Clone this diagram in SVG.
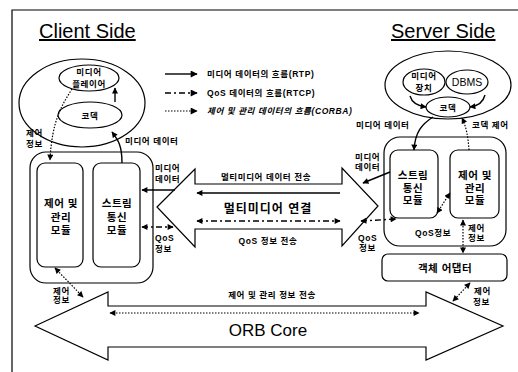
<svg xmlns="http://www.w3.org/2000/svg" width="518" height="372" viewBox="0 0 518 372">
<defs>
<marker id="ah" viewBox="0 0 10 10" refX="9" refY="5" markerWidth="7" markerHeight="6" markerUnits="userSpaceOnUse" orient="auto-start-reverse"><path d="M0,0 L10,5 L0,10 z" fill="#000"/></marker>
<marker id="ahl" viewBox="0 0 10 10" refX="9" refY="5" markerWidth="9" markerHeight="7" markerUnits="userSpaceOnUse" orient="auto-start-reverse"><path d="M0,0 L10,5 L0,10 z" fill="#000"/></marker>
<style>
.ln{fill:none;stroke:#000;stroke-width:1.2}
.sh{fill:#fff;stroke:#000;stroke-width:1.2}
.dot{fill:none;stroke:#000;stroke-width:1.2;stroke-dasharray:1.5 1.5}
.dd{fill:none;stroke:#000;stroke-width:1.4;stroke-dasharray:6 3 2 3}
.sol{fill:none;stroke:#000;stroke-width:1.4}
.t{font-family:"Liberation Sans","Noto Sans CJK KR",sans-serif;fill:#000}
.k{font-family:"Liberation Sans","Noto Sans CJK KR",sans-serif;fill:#000;font-size:8.5px;font-weight:bold;letter-spacing:0.6px}
.m{font-family:"Liberation Sans","Noto Sans CJK KR",sans-serif;fill:#000;font-size:10.5px;font-weight:bold;letter-spacing:0.5px;text-anchor:middle}
.c{text-anchor:middle}
.h{font-size:20px;text-decoration:underline}
</style>
</defs>
<rect width="518" height="372" fill="#fff"/>
<g id="frame"><path class="ln" d="M12,372 L12,10 L518,10"/></g>
<g id="titles">
<text class="t h" x="39" y="38">Client Side</text>
<text class="t h" x="391" y="38">Server Side</text>
</g>
<g id="legend">
<line class="sol" x1="165" y1="74" x2="197" y2="74" marker-end="url(#ahl)"/>
<text class="k" x="207" y="77">미디어 데이터의 흐름(RTP)</text>
<line class="dd" x1="165" y1="93" x2="197" y2="93" marker-end="url(#ahl)"/>
<text class="k" x="207" y="96">QoS 데이터의 흐름(RTCP)</text>
<line class="dot" x1="165" y1="111" x2="197" y2="111" marker-end="url(#ahl)"/>
<text class="k" x="207" y="114" font-style="italic">제어 및 관리 데이터의 흐름(CORBA)</text>
</g>
<g id="client-ellipse"><ellipse class="sh" cx="82" cy="103" rx="63" ry="44"/></g>
<g id="client-player"><ellipse class="sh" cx="89" cy="78" rx="30" ry="13"/>
<text class="k c" x="89" y="75">미디어</text><text class="k c" x="89" y="87">플레이어</text></g>
<g id="client-codec"><ellipse class="sh" cx="90" cy="115" rx="32" ry="13"/>
<text class="k c" x="90" y="119">코덱</text></g>
<g id="client-box"><rect class="sh" x="30" y="152" width="123" height="131" rx="16"/></g>
<g id="client-control"><rect class="sh" x="37" y="163" width="46" height="104" rx="8"/>
<text class="m" x="61" y="207">제어 및</text><text class="m" x="61" y="221">관리</text><text class="m" x="61" y="234">모듈</text></g>
<g id="client-stream"><rect class="sh" x="93" y="163" width="47" height="104" rx="8"/>
<text class="m" x="117" y="207">스트림</text><text class="m" x="117" y="221">통신</text><text class="m" x="117" y="234">모듈</text></g>
<g id="server-ellipse"><ellipse class="sh" cx="448" cy="85" rx="63" ry="34"/></g>
<g id="server-device"><ellipse class="sh" cx="424" cy="82" rx="21" ry="13"/>
<text class="k c" x="424" y="79">미디어</text><text class="k c" x="424" y="91">장치</text></g>
<g id="server-dbms"><ellipse class="sh" cx="467" cy="82" rx="21" ry="12"/>
<text class="t c" x="467" y="86" font-size="10.5">DBMS</text></g>
<g id="server-codec"><ellipse class="sh" cx="448" cy="107" rx="22" ry="10"/>
<text class="k c" x="448" y="111">코덱</text></g>
<g id="server-box"><rect class="sh" x="384" y="137" width="122" height="109" rx="16"/></g>
<g id="server-stream"><rect class="sh" x="390" y="150" width="48" height="68" rx="8"/>
<text class="m" x="413" y="179">스트림</text><text class="m" x="413" y="192">통신</text><text class="m" x="413" y="204">모듈</text></g>
<g id="server-control"><rect class="sh" x="450" y="150" width="49" height="68" rx="8"/>
<text class="m" x="475" y="179">제어 및</text><text class="m" x="475" y="192">관리</text><text class="m" x="475" y="204">모듈</text></g>
<g id="object-adapter"><rect class="sh" x="382" y="254" width="125" height="27" rx="6"/>
<text class="m" x="445" y="272">객체 어댑터</text></g>
<g id="multimedia-link"><polygon class="sh" points="157,207 195,169 195,184 342,184 342,168 378,206 342,246 342,229 195,229 195,247"/>
<text class="t c" x="268" y="213" font-size="12" font-weight="bold" letter-spacing="1">멀티미디어 연결</text></g>
<g id="orb-core"><polygon class="sh" points="35,326 108,292 108,306 426,306 426,292 503,326 426,360 426,347 108,347 108,360"/>
<text class="t c" x="268" y="336" font-size="17">ORB Core</text></g>
<g id="connectors">
<line class="sol" x1="115" y1="102" x2="115" y2="88" marker-end="url(#ah)"/>
<path class="dot" d="M72,89 C62,105 52,120 50,160" marker-end="url(#ah)"/>
<path class="sol" d="M122,163 C122,145 118,140 112,132" marker-end="url(#ah)"/>
<path class="sol" d="M410,96 C412,103 418,106 426,107" marker-end="url(#ah)"/>
<path class="sol" d="M485,95 C483,103 478,106 470,107" marker-end="url(#ah)"/>
<path class="sol" d="M433,117 C422,124 415,132 414,150" marker-end="url(#ah)"/>
<path class="dot" d="M469,150 C468,136 466,126 462,118" marker-end="url(#ah)"/>
<line class="sol" x1="175" y1="190" x2="142" y2="190" marker-end="url(#ah)"/>
<line class="sol" x1="340" y1="193" x2="197" y2="193" marker-end="url(#ah)"/>
<line class="dd" x1="197" y1="221" x2="340" y2="221" marker-start="url(#ah)" marker-end="url(#ah)"/>
<line class="dd" x1="142" y1="227" x2="173" y2="227" marker-start="url(#ah)" marker-end="url(#ah)"/>
<line class="sol" x1="390" y1="172" x2="363" y2="183" marker-end="url(#ah)"/>
<line class="dd" x1="361" y1="221" x2="396" y2="219" marker-start="url(#ah)" marker-end="url(#ah)"/>
<line class="dot" x1="437" y1="213" x2="450" y2="193" marker-start="url(#ah)" marker-end="url(#ah)"/>
<line class="dot" x1="463" y1="220" x2="463" y2="253" marker-start="url(#ah)" marker-end="url(#ah)"/>
<line class="dot" x1="470" y1="283" x2="453" y2="301" marker-start="url(#ah)" marker-end="url(#ah)"/>
<line class="dot" x1="55" y1="268" x2="83" y2="297" marker-start="url(#ah)" marker-end="url(#ah)"/>
<line class="dot" x1="110" y1="313" x2="419" y2="313" marker-start="url(#ah)" marker-end="url(#ah)"/>
</g>
<g id="labels">
<text class="k" x="26" y="136">제어</text><text class="k" x="26" y="147">정보</text>
<text class="k" x="125" y="144">미디어 데이터</text>
<text class="k" x="155" y="171">미디어</text><text class="k" x="155" y="182">데이터</text>
<text class="k" x="155" y="241">QoS</text><text class="k" x="155" y="252">정보</text>
<text class="k c" x="266" y="180">멀티미디어 데이터 전송</text>
<text class="k c" x="268" y="244">QoS 정보 전송</text>
<text class="k" x="356" y="128">미디어 데이터</text>
<text class="k" x="472" y="128">코덱 제어</text>
<text class="k" x="355" y="160">미디어</text><text class="k" x="355" y="170">데이터</text>
<text class="k" x="358" y="241">QoS</text><text class="k" x="359" y="251">정보</text>
<text class="k" x="415" y="236">QoS정보</text>
<text class="k" x="468" y="231">제어</text><text class="k" x="468" y="241">정보</text>
<text class="k" x="474" y="294">제어</text><text class="k" x="473" y="305">정보</text>
<text class="k" x="53" y="294">제어</text><text class="k" x="53" y="303">정보</text>
<text class="k c" x="272" y="298">제어 및 관리 정보 전송</text>
</g>
</svg>
